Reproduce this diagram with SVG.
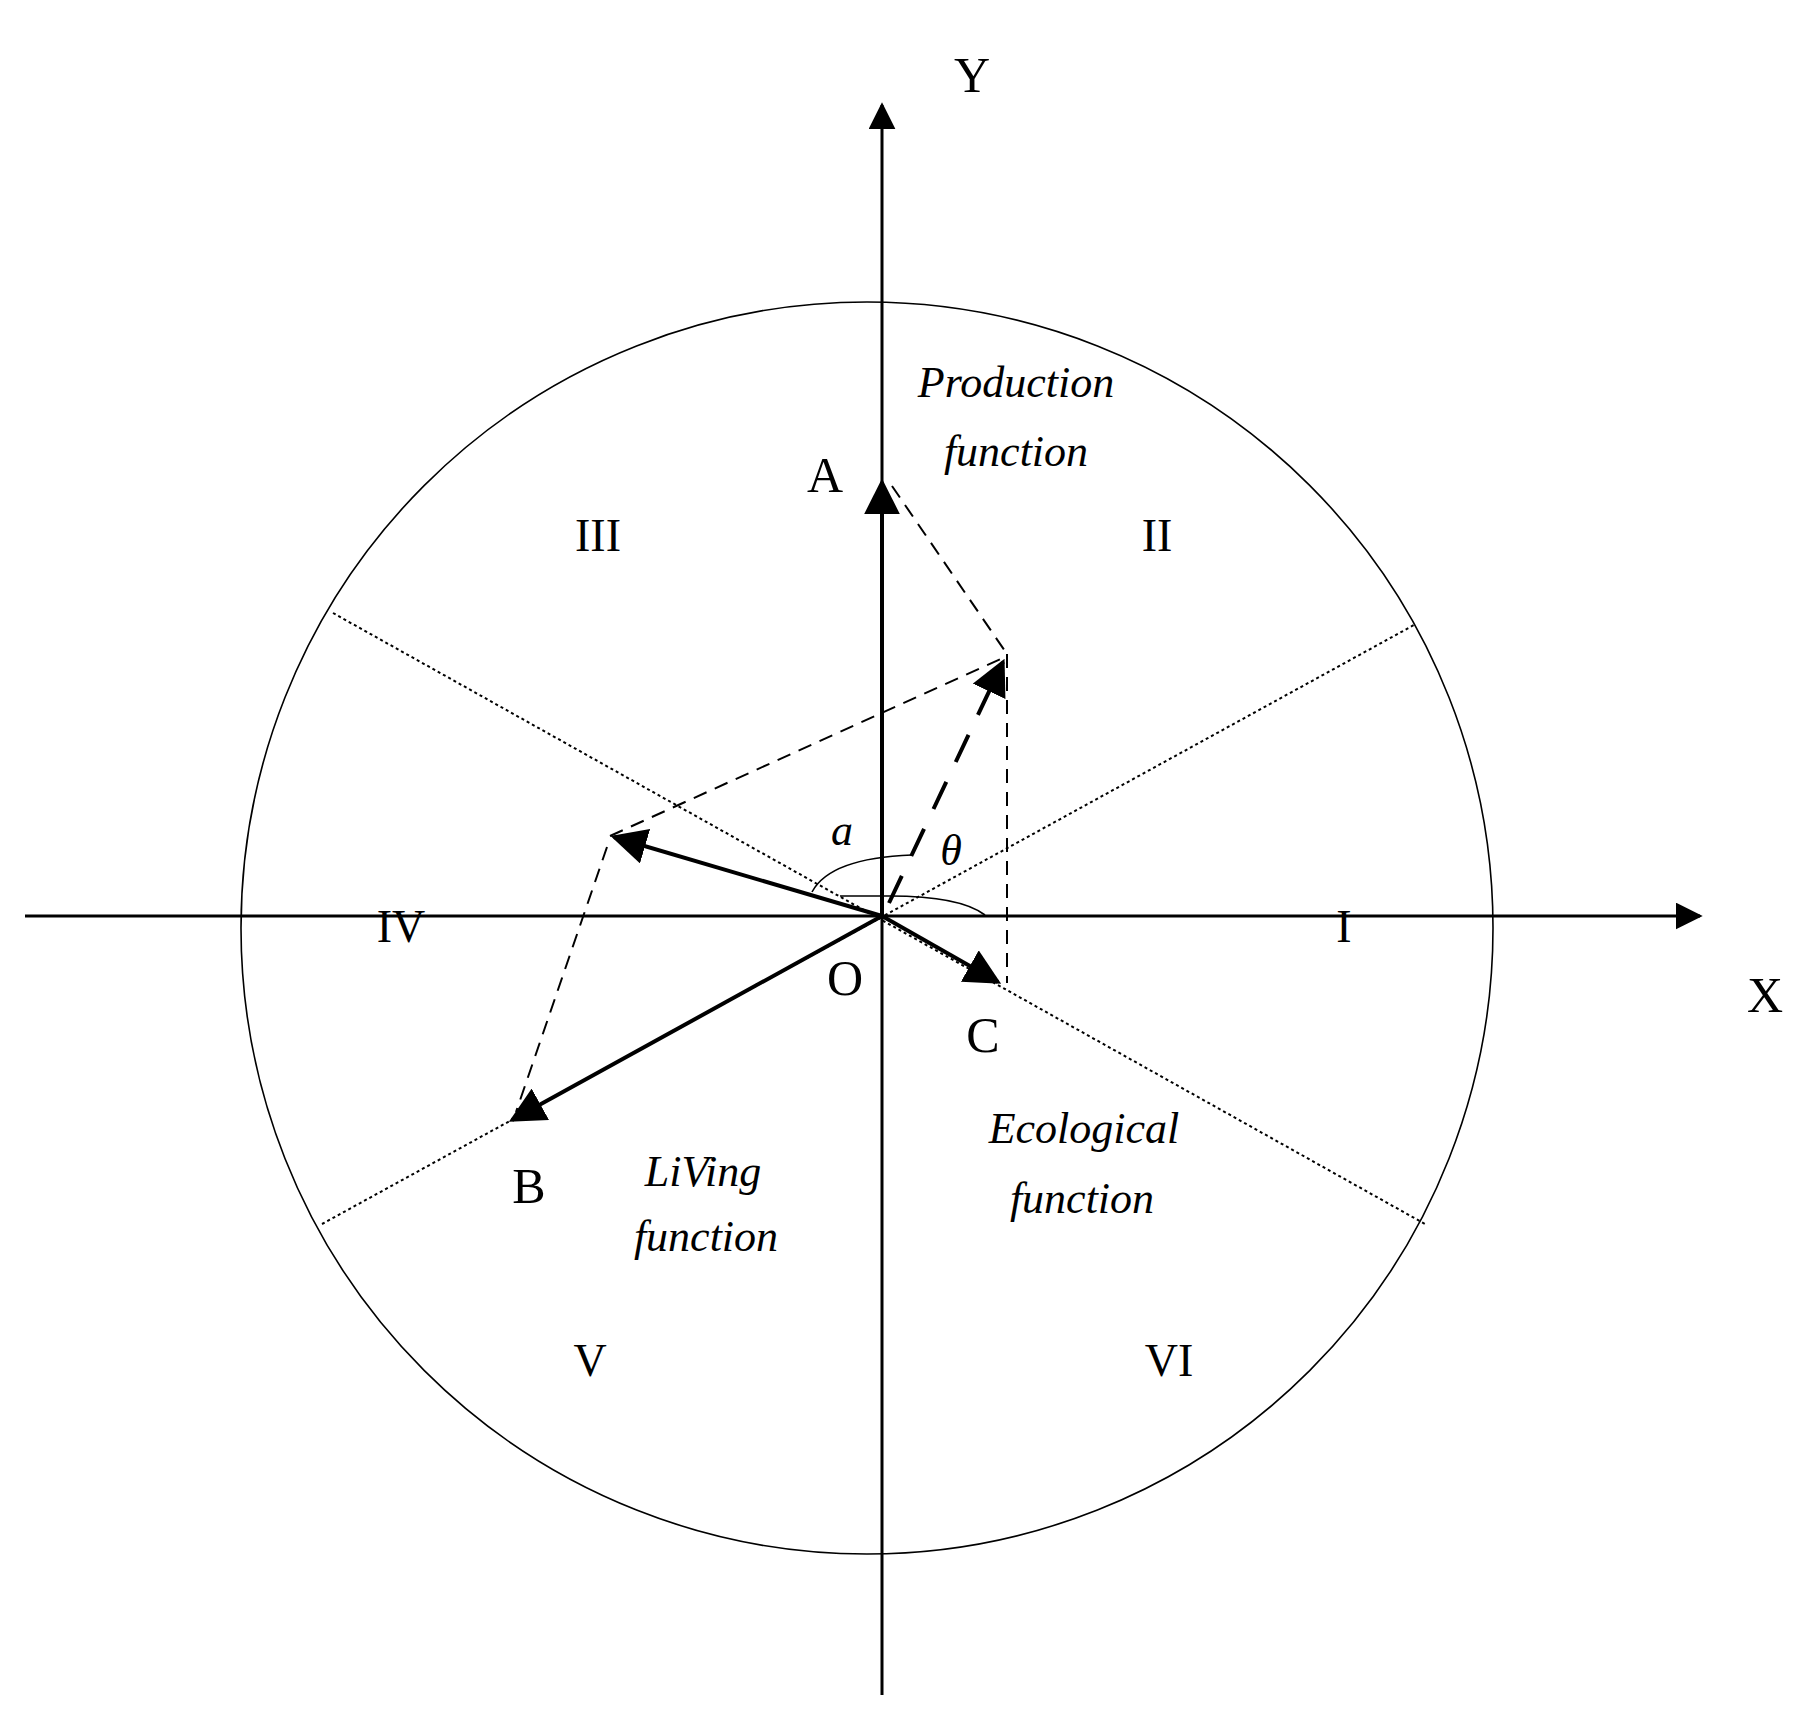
<svg xmlns="http://www.w3.org/2000/svg" width="1814" height="1730" viewBox="0 0 1814 1730">
<style>
.t{font-family:"Liberation Serif","Times New Roman",serif;fill:#000;text-anchor:middle;dominant-baseline:central}
.l{font-size:50px}.r{font-size:46px}.i{font-size:44px;font-style:italic}
.ax{stroke:#000;stroke-width:3;fill:none}
.v{stroke:#000;stroke-width:4;fill:none}
.d{stroke:#000;stroke-width:2;stroke-dasharray:14 9;fill:none}
.dt{stroke:#000;stroke-width:2;stroke-dasharray:3 3;fill:none}
.th{stroke:#000;stroke-width:1.6;fill:none}
</style>
<defs>
<marker id="ah" viewBox="0 0 10 10" refX="9" refY="5" markerWidth="7" markerHeight="7" markerUnits="userSpaceOnUse" orient="auto" style="overflow:visible"><path d="M0,0 L10,5 L0,10 z" fill="#000"/></marker>
<marker id="vh" viewBox="0 0 10 10" refX="9" refY="5" markerWidth="9" markerHeight="9" orient="auto"><path d="M0,0 L10,5 L0,10 z" fill="#000"/></marker>
</defs>
<rect width="1814" height="1730" fill="#fff"/>
<g id="circle"><circle cx="867" cy="928" r="626" class="th"/></g>
<g id="connectors">
<line x1="25" y1="916" x2="1700" y2="916" class="ax" marker-end="url(#vh)"/>
<line x1="882" y1="1695" x2="882" y2="105" class="ax" marker-end="url(#vh)"/>
<line x1="333" y1="613" x2="1425" y2="1224" class="dt"/>
<line x1="322" y1="1224" x2="1414" y2="625" class="dt"/>
<line x1="882" y1="916" x2="882" y2="482" class="v" marker-end="url(#vh)"/>
<line x1="882" y1="916" x2="614" y2="837" class="v" marker-end="url(#vh)"/>
<line x1="882" y1="916" x2="512" y2="1120" class="v" marker-end="url(#vh)"/>
<line x1="882" y1="916" x2="998" y2="982" class="v" marker-end="url(#vh)"/>
<line x1="889" y1="903" x2="1003" y2="662" class="v" stroke-dasharray="30 22" marker-end="url(#vh)"/>
<line x1="892" y1="486" x2="1007" y2="654" class="d"/>
<line x1="1007" y1="654" x2="1007" y2="983" class="d"/>
<line x1="610" y1="836" x2="1003" y2="658" class="d"/>
<line x1="607" y1="847" x2="516" y2="1112" class="d"/>
<path d="M812,892 Q830,858 912,855" class="th"/>
<path d="M840,896 L890,896 Q960,896 985,915" class="th"/>
</g>
<g id="labels">
<text class="t l" x="972" y="75">Y</text>
<text class="t l" x="1765" y="995">X</text>
<text class="t l" x="825" y="475">A</text>
<text class="t l" x="983" y="1035">C</text>
<text class="t l" x="529" y="1186">B</text>
<text class="t l" x="845" y="978">O</text>
<text class="t r" x="598" y="535">III</text>
<text class="t r" x="1157" y="535">II</text>
<text class="t r" x="401" y="926">IV</text>
<text class="t r" x="1344" y="926">I</text>
<text class="t r" x="590" y="1360">V</text>
<text class="t r" x="1169" y="1360">VI</text>
<text class="t i" x="1016" y="382">Production</text>
<text class="t i" x="1016" y="451">function</text>
<text class="t i" x="703" y="1171">LiVing</text>
<text class="t i" x="706" y="1236">function</text>
<text class="t i" x="1084" y="1128">Ecological</text>
<text class="t i" x="1082" y="1198">function</text>
<text class="t i" x="842" y="830">a</text>
<text class="t i" x="951" y="850">θ</text>
</g>
</svg>
